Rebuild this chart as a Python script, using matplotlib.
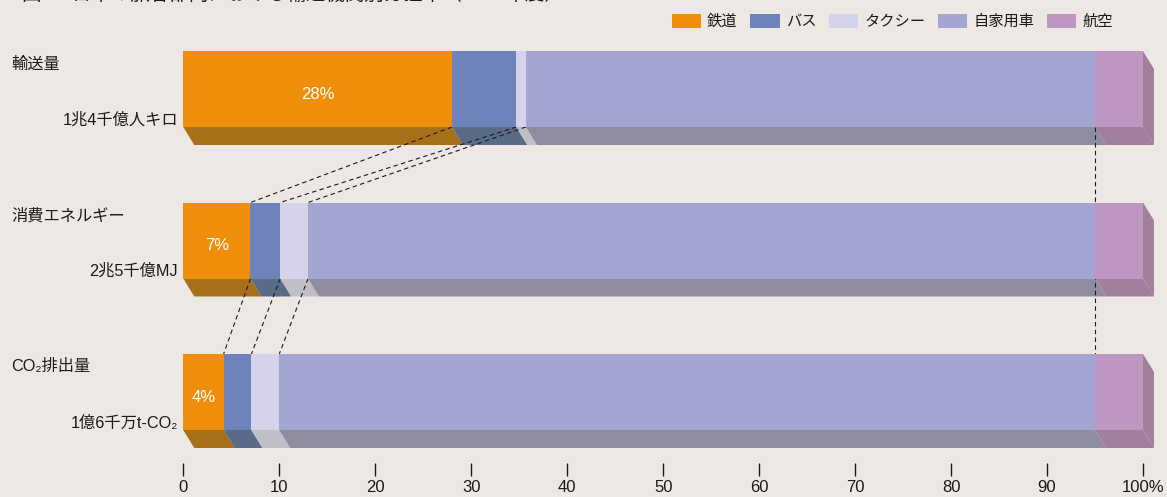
import matplotlib
matplotlib.use("Agg")
import matplotlib.pyplot as plt
from matplotlib.patches import Polygon, Patch
from matplotlib.transforms import blended_transform_factory
import numpy as np

# ── Palette ────────────────────────────────────────────────────────────────
BG = "#EDE8E4"
FACE = ["#EE8E0B", "#6E82BC", "#D5D3E9", "#A3A5D2", "#BE97C2"]
FLOOR = ["#A66F18", "#5A6B88", "#C0BFC8", "#8E8DA0", "#A0809A"]
SIDE = "#A0809A"
INK = "#1A1A1A"
CJK = ["Liberation Sans", "Noto Sans CJK JP", "DejaVu Sans"]

# ── Data (shares in %, rows top → bottom) ─────────────────────────────────
modes = ["鉄道", "バス", "タクシー", "自家用車", "航空"]
row_titles = ["輸送量", "消費エネルギー", "CO₂排出量"]
row_totals = ["1兆4千億人キロ", "2兆5千億MJ", "1億6千万t-CO₂"]
rail = [28.0, 7.0, 4.2]
bus = [6.7, 3.1, 2.9]
taxi = [1.0, 2.9, 2.9]
car = [59.3, 82.0, 85.0]
air = [5.0, 5.0, 5.0]
rail_labels = ["28%", "7%", "4%"]
xticks = [0, 10, 20, 30, 40, 50, 60, 70, 80, 90, 100]
xticklabels = ["0", "10", "20", "30", "40", "50", "60", "70", "80", "90", "100%"]

W, H = 1167, 497
ROW_PX = 151.5           # pixels between row centres
FACE_H = 76 / ROW_PX     # front face height (row units)
DEPTH = 18 / ROW_PX      # floor depth (row units)
DX = 11 / 9.597          # floor skew (percent units)

shares = np.array([rail, bus, taxi, car, air]).T   # rows x modes
cum = np.cumsum(shares, axis=1)
left = cum - shares
ys = np.arange(len(row_titles))

fig = plt.figure(figsize=(W / 100, H / 100), dpi=100, facecolor=BG)
ax = fig.add_axes([183.3 / W, (H - 463) / H, 959.7 / W, 463 / H])
ax.set_facecolor(BG)
ax.set_xlim(0, 100)
ax.set_ylim((463 - 89) / ROW_PX, -89 / ROW_PX)

for i, y in enumerate(ys):
    # floor (bottom face) of every segment
    for k in range(len(modes)):
        l, r = left[i, k], cum[i, k]
        yb = y + FACE_H / 2
        ax.add_patch(Polygon([(l, yb), (r, yb), (r + DX, yb + DEPTH), (l + DX, yb + DEPTH)],
                             closed=True, facecolor=FLOOR[k], edgecolor="none",
                             zorder=2, clip_on=False))
    # right side face
    ax.add_patch(Polygon([(100, y - FACE_H / 2), (100 + DX, y - FACE_H / 2 + DEPTH),
                          (100 + DX, y + FACE_H / 2 + DEPTH), (100, y + FACE_H / 2)],
                         closed=True, facecolor=SIDE, edgecolor="none",
                         zorder=2, clip_on=False))
    # front faces
    for k in range(len(modes)):
        ax.barh(y, shares[i, k], left=left[i, k], height=FACE_H,
                color=FACE[k], linewidth=0, zorder=3)
    ax.text(rail[i] / 2, y + 0.035, rail_labels[i], ha="center", va="center",
            fontsize=12, color="white", family=CJK, zorder=5)

# dashed connectors between neighbouring rows
for i in range(len(ys) - 1):
    for k in range(3):
        ax.plot([cum[i, k], cum[i + 1, k]],
                [ys[i] + FACE_H / 2, ys[i + 1] - FACE_H / 2],
                color=INK, lw=0.8, ls=(0, (4, 3)), zorder=2.5)
ax.plot([cum[0, 3], cum[-1, 3]], [ys[0] + FACE_H / 2, ys[-1] - FACE_H / 2],
        color=INK, lw=0.8, ls=(0, (4, 3)), zorder=2.5)

# row labels
tr = blended_transform_factory(fig.transFigure, ax.transData)
for i, y in enumerate(ys):
    ax.text(11 / W, y - 25 / ROW_PX, row_titles[i], transform=tr,
            ha="left", va="center", fontsize=11.7, color=INK, family=CJK)
    ax.text(178 / W, y + 31 / ROW_PX, row_totals[i], transform=tr,
            ha="right", va="center", fontsize=11.7, color=INK, family=CJK)

# axis
ax.set_yticks([])
ax.set_xticks(xticks)
ax.set_xticklabels(xticklabels, family=CJK)
ax.tick_params(axis="x", length=9.4, width=1, color=INK, pad=3,
               labelsize=12, labelcolor=INK)
for sp in ax.spines.values():
    sp.set_visible(False)

# legend
handles = [Patch(facecolor=FACE[k], edgecolor="none", label=modes[k]) for k in range(len(modes))]
leg = fig.legend(handles=handles, ncol=5, loc="center right",
                 bbox_to_anchor=(1113 / W, 1 - 21.5 / H), frameon=False,
                 prop={"family": CJK, "size": 11}, borderpad=0, borderaxespad=0,
                 handlelength=1.9, handleheight=1.0, handletextpad=0.4,
                 columnspacing=0.85)
for t in leg.get_texts():
    t.set_color(INK)

# title (cut off at the top edge in the reference)
fig.text(22 / W, 1 + 5 / H, "図1　日本の旅客部門における輸送機関別分担率（2000年度）",
         ha="left", va="center", fontsize=14, color=INK, family=CJK)

fig.savefig("out.png", dpi=100, facecolor=BG)
